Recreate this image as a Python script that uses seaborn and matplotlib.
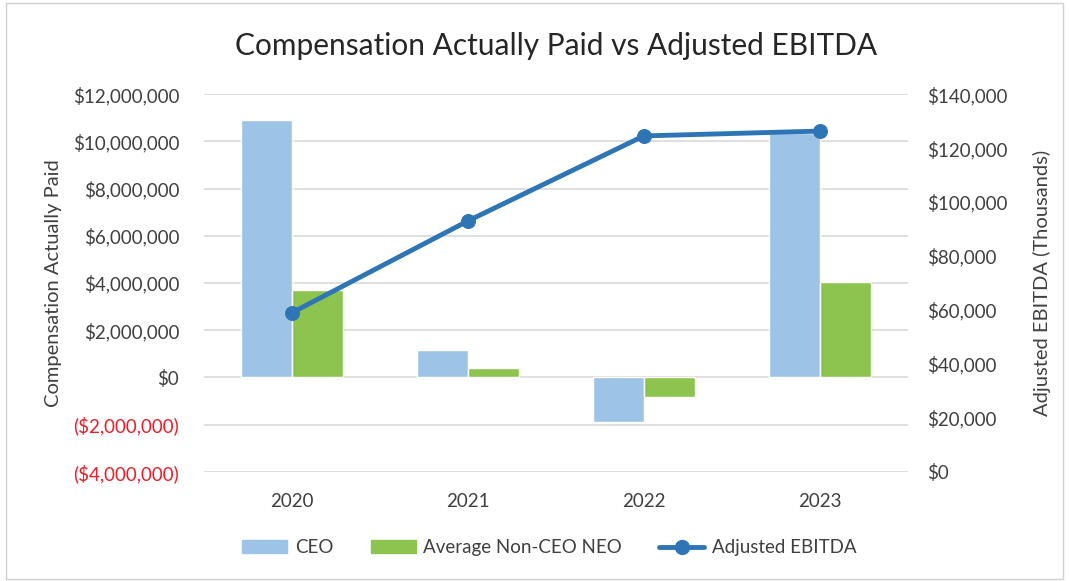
import matplotlib.pyplot as plt
import matplotlib.ticker as mticker
from matplotlib.patches import Patch, Rectangle
from matplotlib.lines import Line2D
import numpy as np
import pandas as pd
import seaborn as sns

years = ["2020", "2021", "2022", "2023"]
ceo = [10_920_000, 1_150_000, -1_890_000, 10_360_000]
non_ceo = [3_690_000, 380_000, -850_000, 4_030_000]
ebitda = [59_000, 93_000, 124_500, 126_300]

c_ceo = "#9DC3E6"
c_neo = "#8DC450"
c_line = "#2E75B6"
grid_c = "#D9D9D9"
txt_c = "#404040"

sns.set_theme(style="white")
plt.rcParams["font.family"] = ["Lato", "DejaVu Sans"]

df = pd.DataFrame({
    "year": years * 2,
    "value": ceo + non_ceo,
    "series": ["CEO"] * 4 + ["Average Non-CEO NEO"] * 4,
})

fig = plt.figure(figsize=(10.69, 5.81), dpi=100)
fig.patches.append(Rectangle((0.006, 0.004), 0.988, 0.99, transform=fig.transFigure,
                             fill=False, edgecolor="#D0D0D0", linewidth=1))
ax = fig.add_axes([0.191, 0.188, 0.658, 0.650])

sns.barplot(data=df, x="year", y="value", hue="series", order=years,
            palette=[c_ceo, c_neo], saturation=1, width=0.58,
            edgecolor="white", linewidth=1, ax=ax, legend=False)

ax.set_xlim(-0.5, 3.5)
ax.set_ylim(-4_000_000, 12_000_000)
ax.yaxis.set_major_locator(mticker.MultipleLocator(2_000_000))


def money_fmt(v, pos):
    if v < 0:
        return "(${:,.0f})".format(-v)
    return "${:,.0f}".format(v)


ax.yaxis.set_major_formatter(mticker.FuncFormatter(money_fmt))
ax.grid(axis="y", color=grid_c, linewidth=1.2)
ax.set_axisbelow(True)
for s in ax.spines.values():
    s.set_visible(False)
ax.tick_params(axis="y", length=0, labelsize=13.5, colors=txt_c, pad=18)
ax.tick_params(axis="x", length=0, labelsize=13.5, colors=txt_c, pad=15)
for lbl, v in zip(ax.get_yticklabels(), ax.get_yticks()):
    if v < 0:
        lbl.set_color("#E8202A")
ax.set_xlabel("")
ax.set_ylabel("Compensation Actually Paid", fontsize=14.5, color=txt_c, labelpad=8)

ax2 = ax.twinx()
sns.lineplot(x=np.arange(len(years)), y=ebitda, color=c_line, linewidth=3.5,
             marker="o", markersize=10, markeredgecolor=c_line, ax=ax2)
ax2.set_ylim(0, 140_000)
ax2.yaxis.set_major_locator(mticker.MultipleLocator(20_000))
ax2.yaxis.set_major_formatter(mticker.FuncFormatter(money_fmt))
for s in ax2.spines.values():
    s.set_visible(False)
ax2.tick_params(axis="y", length=0, labelsize=13.5, colors=txt_c, pad=14)
ax2.set_ylabel("Adjusted EBITDA (Thousands)", fontsize=14.5, color=txt_c, labelpad=18)
ax2.set_xlim(-0.5, 3.5)

fig.suptitle("Compensation Actually Paid vs Adjusted EBITDA", fontsize=21.5,
             color="#262626", x=0.52, y=0.945)

handles = [
    Patch(facecolor=c_ceo, edgecolor=c_ceo),
    Patch(facecolor=c_neo, edgecolor=c_neo),
    Line2D([], [], color=c_line, linewidth=3.5, marker="o", markersize=10),
]
fig.legend(handles, ["CEO", "Average Non-CEO NEO", "Adjusted EBITDA"],
           loc="center", bbox_to_anchor=(0.514, 0.057), ncol=3, frameon=False,
           fontsize=13.5, handlelength=2.4, handletextpad=0.4, columnspacing=2.0,
           labelcolor=txt_c)

fig.savefig("out.png", dpi=100)
